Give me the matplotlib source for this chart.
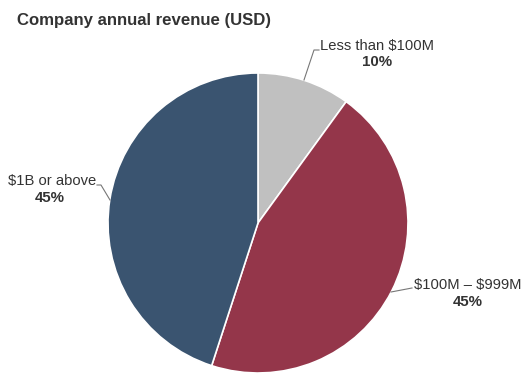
import matplotlib
matplotlib.use('Agg')
import matplotlib.pyplot as plt

plt.rcParams['font.family'] = ['Liberation Sans', 'DejaVu Sans']
plt.rcParams['text.parse_math'] = False

categories = ['Less than $100M', '$100M – $999M', '$1B or above']
shares = [10, 45, 45]
colors = ['#c0c0c0', '#94364a', '#3a5470']
TEXT = '#333333'

fig = plt.figure(figsize=(5.27, 3.82), dpi=100)
fig.patch.set_facecolor('white')

# pie centred at about (258, 223) px, radius 150 px
ax = fig.add_axes([108 / 527, 9 / 382, 300 / 527, 300 / 382])
wedges, _ = ax.pie(shares, colors=colors, startangle=90, counterclock=False,
                   radius=1, wedgeprops=dict(edgecolor='white', linewidth=1.2))
ax.set_xlim(-1, 1)
ax.set_ylim(-1, 1)
ax.set_aspect('auto')
ax.axis('off')

fig.text(17 / 527, 1 - 20 / 382, 'Company annual revenue (USD)', fontsize=12.1,
         fontweight='bold', color=TEXT, va='center', ha='left')


def px(x, y):
    return (x / 527, 1 - y / 382)


# label positions in pixels: (name anchor, pct centre, leader line points)
label_pos = [
    dict(name=(320, 46), ha='left', pct=(377, 62), line=[(304, 80), (314, 50), (319, 50)]),
    dict(name=(414, 285), ha='left', pct=(468, 302), line=[(391, 292), (412, 288)]),
    dict(name=(96, 181), ha='right', pct=(50, 198), line=[(110, 200), (101, 185), (97, 185)]),
]

for cat, val, lp in zip(categories, shares, label_pos):
    xs = [px(*p)[0] for p in lp['line']]
    ys = [px(*p)[1] for p in lp['line']]
    fig.add_artist(plt.Line2D(xs, ys, transform=fig.transFigure, color='#777777', lw=0.8))
    fig.text(*px(*lp['name']), cat, fontsize=10.6, color=TEXT, ha=lp['ha'], va='center')
    fig.text(*px(*lp['pct']), f'{val}%', fontsize=10.8, fontweight='bold', color=TEXT,
             ha='center', va='center')

fig.savefig('out.png', dpi=100)
